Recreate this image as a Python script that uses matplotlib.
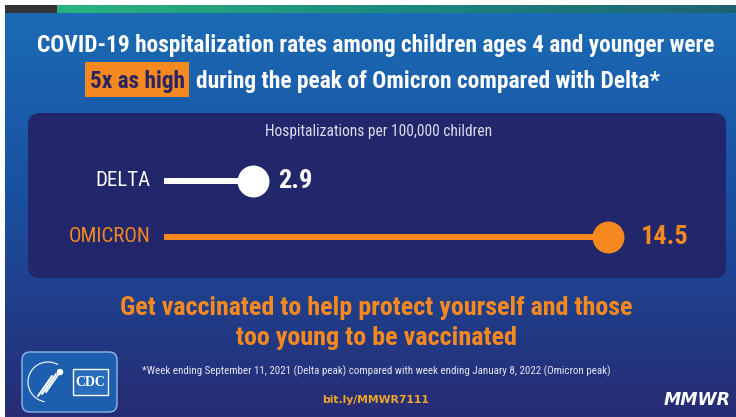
import numpy as np
import matplotlib
matplotlib.use("Agg")
import matplotlib.pyplot as plt
from matplotlib.patches import FancyBboxPatch, Rectangle, Circle, Arc
from matplotlib.colors import LinearSegmentedColormap

# data
variants = ["DELTA", "OMICRON"]
rates = [2.9, 14.5]
value_labels = ["2.9", "14.5"]

title_line1 = "COVID-19 hospitalization rates among children ages 4 and younger were"
title_hi = "5x as high"
title_rest = "during the peak of Omicron compared with Delta*"
axis_note = "Hospitalizations per 100,000 children"
call_line1 = "Get vaccinated to help protect yourself and those"
call_line2 = "too young to be vaccinated"
footnote = ("*Week ending September 11, 2021 (Delta peak) compared with "
            "week ending January 8, 2022 (Omicron peak)")
link = "bit.ly/MMWR7111"

NARROW = ["Roboto Condensed", "Liberation Sans Narrow", "Roboto", "DejaVu Sans"]
ORANGE = "#f5891f"
NAVY = "#22266a"
W, H = 736, 417

fig = plt.figure(figsize=(W / 100, H / 100), dpi=100)
fig.patch.set_facecolor("white")
renderer = fig.canvas.get_renderer()


def fit(t, width_px):
    # shrink/grow the font until the text spans about width_px pixels
    for _ in range(3):
        w = t.get_window_extent(renderer).width
        t.set_fontsize(t.get_fontsize() * width_px / w)
    return t


bg = fig.add_axes([0, 0, 1, 1])
bg.set_xlim(0, W)
bg.set_ylim(H, 0)
bg.axis("off")

# blue background gradient
grad = LinearSegmentedColormap.from_list(
    "bg", [(0, "#1a6bb5"), (0.45, "#1a50a0"), (1, "#272c74")])
g = np.linspace(0, 1, 256).reshape(-1, 1)
bg.imshow(g, cmap=grad, extent=(5, W, H, 13), aspect="auto", zorder=0)

# top stripe
bg.add_patch(Rectangle((5, 5), 52, 8, color="#333333", lw=0, zorder=1))
stripe = LinearSegmentedColormap.from_list("st", ["#2bb47c", "#1b8a80", "#1f6272"])
bg.imshow(np.linspace(0, 1, 256).reshape(1, -1), cmap=stripe,
          extent=(57, W, 13, 5), aspect="auto", zorder=1)

# title
fit(bg.text(376, 52, title_line1, ha="center", va="baseline", color="white",
            fontsize=16, fontweight="bold", family=NARROW), 677)
bg.add_patch(Rectangle((85, 62), 104, 35, color=ORANGE, lw=0, zorder=2))
fit(bg.text(137, 88, title_hi, ha="center", va="baseline", color="#2b2464",
            fontsize=16, fontweight="bold", family=NARROW, zorder=3), 95)
fit(bg.text(196, 88, title_rest, ha="left", va="baseline", color="white",
            fontsize=16, fontweight="bold", family=NARROW), 467)

# chart panel
bg.add_patch(FancyBboxPatch((28, 113), 698, 165,
                            boxstyle="round,pad=0,rounding_size=12",
                            fc=NAVY, ec="none", zorder=1))
fit(bg.text(379, 136, axis_note, ha="center", va="baseline", color="#dcdcec",
            fontsize=10, family=NARROW), 228)

# lollipop axes: x=0 at px 164, x=14.5 at px 608; rows at px 180.5 and 237
ax = fig.add_axes([164 / W, 1 - 237 / H, 444 / W, 56.5 / H])
ax.set_xlim(0, 14.5)
ax.set_ylim(0, 1)
ax.axis("off")
ypos = [1, 0]
colors = ["white", ORANGE]
value_pad = [18, 24]
for y, v, lab, vl, c, pad in zip(ypos, rates, variants, value_labels,
                                 colors, value_pad):
    ax.hlines(y, 0, v, color=c, lw=4.3, clip_on=False)
    ax.plot(v, y, "o", ms=23, color=c, mec="none", clip_on=False)
    ax.annotate(lab, (0, y), xytext=(-10, 0), textcoords="offset points",
                ha="right", va="center", color=c, fontsize=15,
                family=NARROW)
    ax.annotate(vl, (v, y), xytext=(pad, 0), textcoords="offset points",
                ha="left", va="center", color=c, fontsize=19,
                fontweight="bold", family=NARROW)

# call to action
fit(bg.text(376, 315, call_line1, ha="center", va="baseline", color=ORANGE,
            fontsize=16, fontweight="bold", family=NARROW), 512)
fit(bg.text(376, 345, call_line2, ha="center", va="baseline", color=ORANGE,
            fontsize=16, fontweight="bold", family=NARROW), 281)
fit(bg.text(376, 374, footnote, ha="center", va="baseline", color="#e4e4f0",
            fontsize=8.5, family=NARROW), 468)
fit(bg.text(376, 403, link, ha="center", va="baseline", color="#f2a62a",
            fontsize=9.5, fontweight="bold", family="DejaVu Sans"), 107)
fit(bg.text(731, 405, "MMWR", ha="right", va="baseline", color="white",
            fontsize=13, fontweight="bold", fontstyle="italic",
            family="DejaVu Sans"), 67)

# CDC logo
bg.add_patch(FancyBboxPatch((22, 352), 95, 60,
                            boxstyle="round,pad=0,rounding_size=8",
                            fc="#1d5fae", ec="#8fb8e8", lw=1, zorder=2))
bg.add_patch(Arc((48, 382), 40, 40, theta1=100, theta2=300, color="white",
                 lw=0.8, zorder=3))
for dx in [0, 4, 8]:
    bg.plot([38 + dx, 52 + dx], [396 - dx / 2, 376 - dx / 2], color="white",
            lw=1.4, zorder=3, solid_capstyle="round")
bg.add_patch(Circle((60, 372), 2.5, color="white", zorder=3))
bg.add_patch(Rectangle((73, 369), 35, 26, fc="#2a6cbc", ec="white", lw=1,
                       zorder=3))
bg.text(90.5, 382, "CDC", ha="center", va="center", color="white",
        fontsize=10, fontweight="bold", family="Liberation Serif", zorder=4)

fig.savefig("out.png", dpi=100, facecolor=fig.get_facecolor())
